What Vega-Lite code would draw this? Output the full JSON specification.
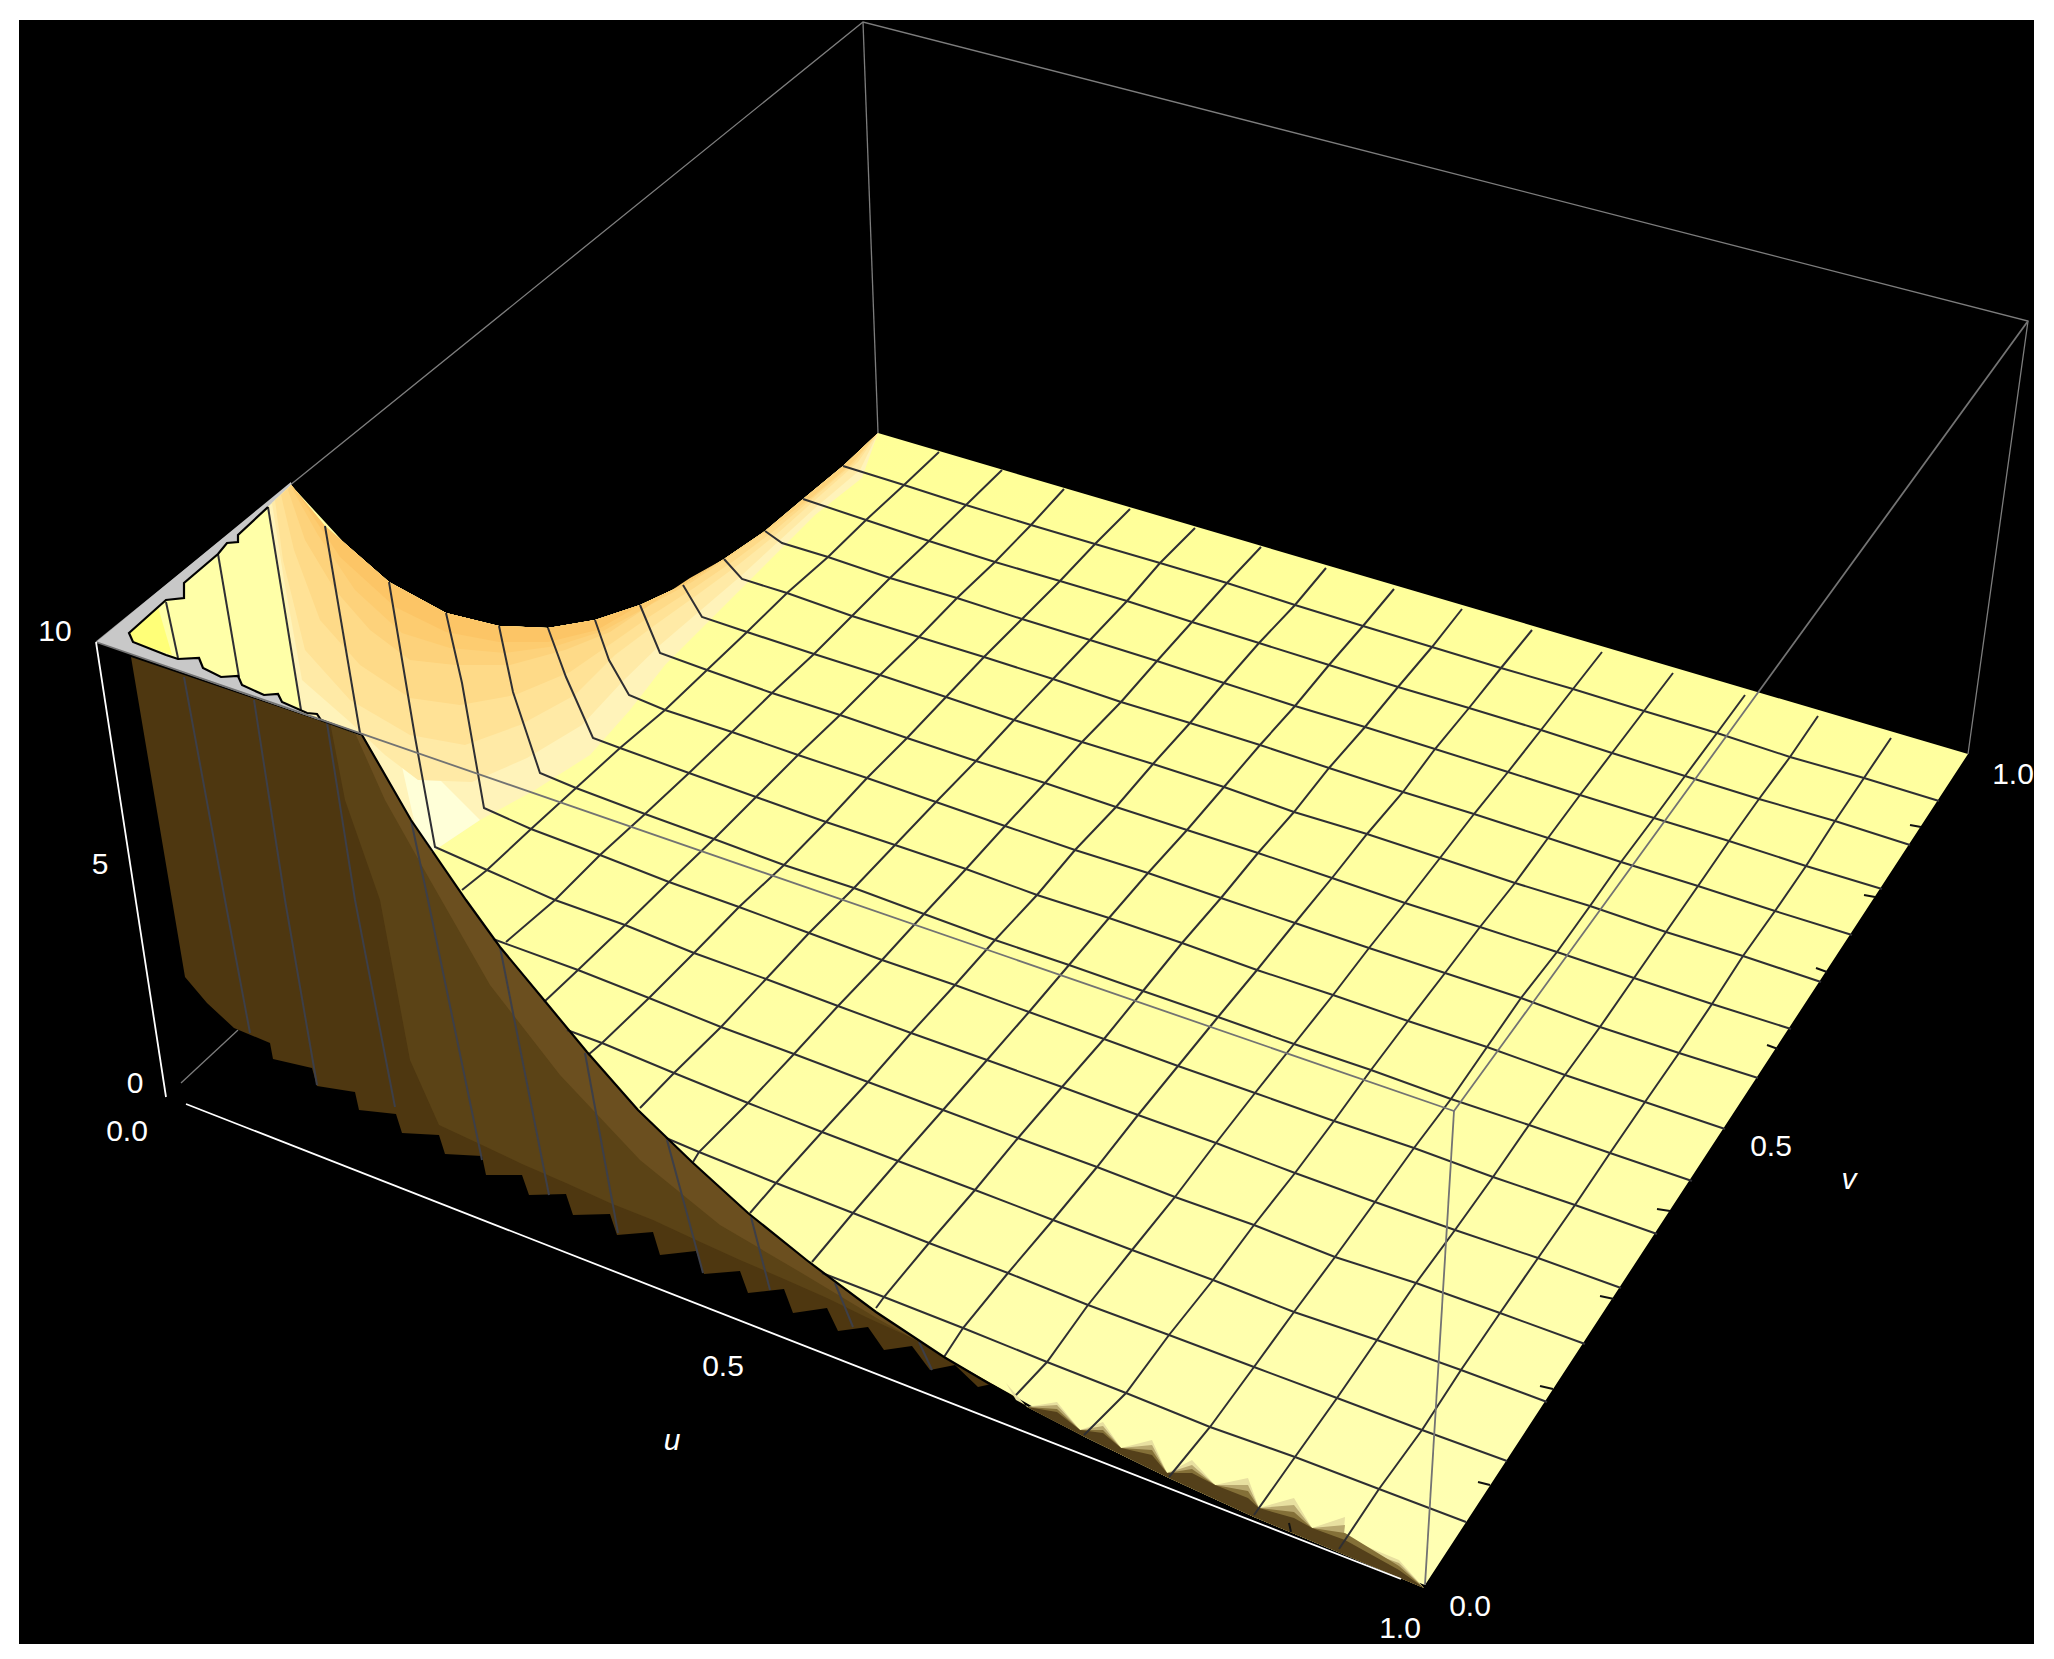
{"$schema":"https://vega.github.io/schema/vega-lite/v6.json","width":2054,"height":1659,"padding":0,"autosize":{"type":"fit","contains":"padding"},"background":"#ffffff","config":{"view":{"stroke":null}},
"datasets":{
"polys":[
{"part":"frame","i":0,"x":19,"y":20},{"part":"frame","i":1,"x":2034,"y":20},{"part":"frame","i":2,"x":2034,"y":1644},{"part":"frame","i":3,"x":19,"y":1644},
{"part":"wall","i":0,"x":131,"y":657},{"part":"wall","i":1,"x":362,"y":735},{"part":"wall","i":2,"x":411,"y":820},{"part":"wall","i":3,"x":466,"y":900},{"part":"wall","i":4,"x":544,"y":1000},{"part":"wall","i":5,"x":638,"y":1110},{"part":"wall","i":6,"x":748,"y":1213},{"part":"wall","i":7,"x":876,"y":1312},{"part":"wall","i":8,"x":1016,"y":1397},{"part":"wall","i":9,"x":1027,"y":1407},{"part":"wall","i":10,"x":996,"y":1383},{"part":"wall","i":11,"x":978,"y":1387},{"part":"wall","i":12,"x":955,"y":1365},{"part":"wall","i":13,"x":930,"y":1370},{"part":"wall","i":14,"x":912,"y":1346},{"part":"wall","i":15,"x":884,"y":1350},{"part":"wall","i":16,"x":868,"y":1327},{"part":"wall","i":17,"x":838,"y":1331},{"part":"wall","i":18,"x":827,"y":1308},{"part":"wall","i":19,"x":793,"y":1313},{"part":"wall","i":20,"x":784,"y":1289},{"part":"wall","i":21,"x":748,"y":1293},{"part":"wall","i":22,"x":740,"y":1271},{"part":"wall","i":23,"x":704,"y":1274},{"part":"wall","i":24,"x":696,"y":1251},{"part":"wall","i":25,"x":660,"y":1255},{"part":"wall","i":26,"x":653,"y":1232},{"part":"wall","i":27,"x":617,"y":1235},{"part":"wall","i":28,"x":610,"y":1214},{"part":"wall","i":29,"x":573,"y":1215},{"part":"wall","i":30,"x":566,"y":1194},{"part":"wall","i":31,"x":529,"y":1195},{"part":"wall","i":32,"x":522,"y":1175},{"part":"wall","i":33,"x":486,"y":1175},{"part":"wall","i":34,"x":482,"y":1156},{"part":"wall","i":35,"x":445,"y":1154},{"part":"wall","i":36,"x":439,"y":1135},{"part":"wall","i":37,"x":402,"y":1133},{"part":"wall","i":38,"x":396,"y":1114},{"part":"wall","i":39,"x":359,"y":1110},{"part":"wall","i":40,"x":355,"y":1092},{"part":"wall","i":41,"x":317,"y":1086},{"part":"wall","i":42,"x":312,"y":1068},{"part":"wall","i":43,"x":273,"y":1059},{"part":"wall","i":44,"x":270,"y":1043},{"part":"wall","i":45,"x":234,"y":1028},{"part":"wall","i":46,"x":207,"y":1003},{"part":"wall","i":47,"x":185,"y":977},{"part":"wall","i":48,"x":172,"y":900},
{"part":"wall2","i":0,"x":330,"y":722},{"part":"wall2","i":1,"x":362,"y":735},{"part":"wall2","i":2,"x":411,"y":820},{"part":"wall2","i":3,"x":466,"y":900},{"part":"wall2","i":4,"x":544,"y":1000},{"part":"wall2","i":5,"x":638,"y":1110},{"part":"wall2","i":6,"x":748,"y":1213},{"part":"wall2","i":7,"x":876,"y":1312},{"part":"wall2","i":8,"x":1016,"y":1397},{"part":"wall2","i":9,"x":996,"y":1378},{"part":"wall2","i":10,"x":955,"y":1358},{"part":"wall2","i":11,"x":912,"y":1338},{"part":"wall2","i":12,"x":868,"y":1318},{"part":"wall2","i":13,"x":827,"y":1298},{"part":"wall2","i":14,"x":784,"y":1279},{"part":"wall2","i":15,"x":740,"y":1260},{"part":"wall2","i":16,"x":696,"y":1240},{"part":"wall2","i":17,"x":653,"y":1220},{"part":"wall2","i":18,"x":610,"y":1203},{"part":"wall2","i":19,"x":566,"y":1183},{"part":"wall2","i":20,"x":522,"y":1164},{"part":"wall2","i":21,"x":482,"y":1145},{"part":"wall2","i":22,"x":439,"y":1125},{"part":"wall2","i":23,"x":410,"y":1060},{"part":"wall2","i":24,"x":380,"y":900},{"part":"wall2","i":25,"x":345,"y":800},
{"part":"wall3","i":0,"x":355,"y":733},{"part":"wall3","i":1,"x":362,"y":735},{"part":"wall3","i":2,"x":411,"y":820},{"part":"wall3","i":3,"x":466,"y":900},{"part":"wall3","i":4,"x":544,"y":1000},{"part":"wall3","i":5,"x":638,"y":1110},{"part":"wall3","i":6,"x":748,"y":1213},{"part":"wall3","i":7,"x":876,"y":1312},{"part":"wall3","i":8,"x":1016,"y":1397},{"part":"wall3","i":9,"x":960,"y":1365},{"part":"wall3","i":10,"x":880,"y":1320},{"part":"wall3","i":11,"x":800,"y":1272},{"part":"wall3","i":12,"x":720,"y":1225},{"part":"wall3","i":13,"x":640,"y":1160},{"part":"wall3","i":14,"x":560,"y":1075},{"part":"wall3","i":15,"x":490,"y":985},{"part":"wall3","i":16,"x":430,"y":880},{"part":"wall3","i":17,"x":385,"y":800},
{"part":"gray","i":0,"x":96,"y":642},{"part":"gray","i":1,"x":291,"y":482},{"part":"gray","i":2,"x":300,"y":600},{"part":"gray","i":3,"x":362,"y":735},
{"part":"left","i":0,"x":291,"y":485},{"part":"left","i":1,"x":268,"y":507},{"part":"left","i":2,"x":238,"y":535},{"part":"left","i":3,"x":238,"y":542},{"part":"left","i":4,"x":227,"y":543},{"part":"left","i":5,"x":218,"y":554},{"part":"left","i":6,"x":184,"y":583},{"part":"left","i":7,"x":184,"y":598},{"part":"left","i":8,"x":166,"y":600},{"part":"left","i":9,"x":129,"y":633},{"part":"left","i":10,"x":133,"y":642},{"part":"left","i":11,"x":166,"y":655},{"part":"left","i":12,"x":178,"y":659},{"part":"left","i":13,"x":199,"y":658},{"part":"left","i":14,"x":203,"y":668},{"part":"left","i":15,"x":221,"y":677},{"part":"left","i":16,"x":238,"y":676},{"part":"left","i":17,"x":242,"y":685},{"part":"left","i":18,"x":264,"y":695},{"part":"left","i":19,"x":278,"y":694},{"part":"left","i":20,"x":282,"y":702},{"part":"left","i":21,"x":307,"y":713},{"part":"left","i":22,"x":317,"y":714},{"part":"left","i":23,"x":321,"y":720},{"part":"left","i":24,"x":362,"y":735},{"part":"left","i":25,"x":420,"y":700},{"part":"left","i":26,"x":360,"y":560},
{"part":"tip","i":0,"x":129,"y":633},{"part":"tip","i":1,"x":158,"y":607},{"part":"tip","i":2,"x":172,"y":655},{"part":"tip","i":3,"x":133,"y":642},
{"part":"band1","i":0,"x":291,"y":485},{"part":"band1","i":1,"x":325,"y":526},{"part":"band1","i":2,"x":389,"y":582},{"part":"band1","i":3,"x":446,"y":613},{"part":"band1","i":4,"x":499,"y":626},{"part":"band1","i":5,"x":548,"y":628},{"part":"band1","i":6,"x":595,"y":620},{"part":"band1","i":7,"x":640,"y":605},{"part":"band1","i":8,"x":683,"y":585},{"part":"band1","i":9,"x":724,"y":559},{"part":"band1","i":10,"x":765,"y":531},{"part":"band1","i":11,"x":803,"y":499},{"part":"band1","i":12,"x":843,"y":466},{"part":"band1","i":13,"x":878,"y":433},{"part":"band1","i":14,"x":862,"y":478},{"part":"band1","i":15,"x":815,"y":515},{"part":"band1","i":16,"x":782,"y":548},{"part":"band1","i":17,"x":745,"y":585},{"part":"band1","i":18,"x":705,"y":625},{"part":"band1","i":19,"x":665,"y":665},{"part":"band1","i":20,"x":630,"y":710},{"part":"band1","i":21,"x":590,"y":755},{"part":"band1","i":22,"x":535,"y":790},{"part":"band1","i":23,"x":480,"y":820},{"part":"band1","i":24,"x":432,"y":852},{"part":"band1","i":25,"x":411,"y":820},{"part":"band1","i":26,"x":364,"y":737},{"part":"band1","i":27,"x":301,"y":712},{"part":"band1","i":28,"x":285,"y":600},{"part":"band1","i":29,"x":268,"y":507},
{"part":"cream","i":0,"x":405,"y":690},{"part":"cream","i":1,"x":430,"y":770},{"part":"cream","i":2,"x":480,"y":820},{"part":"cream","i":3,"x":432,"y":852},{"part":"cream","i":4,"x":415,"y":825},{"part":"cream","i":5,"x":395,"y":735},
{"part":"band1b","i":0,"x":291,"y":485},{"part":"band1b","i":1,"x":325,"y":526},{"part":"band1b","i":2,"x":389,"y":582},{"part":"band1b","i":3,"x":446,"y":613},{"part":"band1b","i":4,"x":499,"y":626},{"part":"band1b","i":5,"x":548,"y":628},{"part":"band1b","i":6,"x":595,"y":620},{"part":"band1b","i":7,"x":640,"y":605},{"part":"band1b","i":8,"x":683,"y":585},{"part":"band1b","i":9,"x":724,"y":559},{"part":"band1b","i":10,"x":765,"y":531},{"part":"band1b","i":11,"x":803,"y":499},{"part":"band1b","i":12,"x":843,"y":466},{"part":"band1b","i":13,"x":878,"y":433},{"part":"band1b","i":14,"x":860,"y":470},{"part":"band1b","i":15,"x":815,"y":508},{"part":"band1b","i":16,"x":780,"y":540},{"part":"band1b","i":17,"x":742,"y":575},{"part":"band1b","i":18,"x":701,"y":610},{"part":"band1b","i":19,"x":660,"y":645},{"part":"band1b","i":20,"x":622,"y":682},{"part":"band1b","i":21,"x":582,"y":725},{"part":"band1b","i":22,"x":527,"y":758},{"part":"band1b","i":23,"x":472,"y":782},{"part":"band1b","i":24,"x":418,"y":780},{"part":"band1b","i":25,"x":385,"y":755},{"part":"band1b","i":26,"x":350,"y":722},{"part":"band1b","i":27,"x":302,"y":680},{"part":"band1b","i":28,"x":284,"y":580},{"part":"band1b","i":29,"x":272,"y":503},
{"part":"band2","i":0,"x":291,"y":485},{"part":"band2","i":1,"x":325,"y":526},{"part":"band2","i":2,"x":389,"y":582},{"part":"band2","i":3,"x":446,"y":613},{"part":"band2","i":4,"x":499,"y":626},{"part":"band2","i":5,"x":548,"y":628},{"part":"band2","i":6,"x":595,"y":620},{"part":"band2","i":7,"x":640,"y":605},{"part":"band2","i":8,"x":683,"y":585},{"part":"band2","i":9,"x":724,"y":559},{"part":"band2","i":10,"x":765,"y":531},{"part":"band2","i":11,"x":803,"y":499},{"part":"band2","i":12,"x":843,"y":466},{"part":"band2","i":13,"x":878,"y":433},{"part":"band2","i":14,"x":858,"y":462},{"part":"band2","i":15,"x":815,"y":500},{"part":"band2","i":16,"x":778,"y":533},{"part":"band2","i":17,"x":738,"y":565},{"part":"band2","i":18,"x":697,"y":595},{"part":"band2","i":19,"x":655,"y":625},{"part":"band2","i":20,"x":615,"y":655},{"part":"band2","i":21,"x":575,"y":695},{"part":"band2","i":22,"x":520,"y":725},{"part":"band2","i":23,"x":465,"y":745},{"part":"band2","i":24,"x":410,"y":735},{"part":"band2","i":25,"x":350,"y":700},{"part":"band2","i":26,"x":305,"y":650},{"part":"band2","i":27,"x":283,"y":560},{"part":"band2","i":28,"x":275,"y":500},
{"part":"band2b","i":0,"x":291,"y":485},{"part":"band2b","i":1,"x":325,"y":526},{"part":"band2b","i":2,"x":389,"y":582},{"part":"band2b","i":3,"x":446,"y":613},{"part":"band2b","i":4,"x":499,"y":626},{"part":"band2b","i":5,"x":548,"y":628},{"part":"band2b","i":6,"x":595,"y":620},{"part":"band2b","i":7,"x":640,"y":605},{"part":"band2b","i":8,"x":683,"y":585},{"part":"band2b","i":9,"x":724,"y":559},{"part":"band2b","i":10,"x":765,"y":531},{"part":"band2b","i":11,"x":803,"y":499},{"part":"band2b","i":12,"x":843,"y":466},{"part":"band2b","i":13,"x":878,"y":433},{"part":"band2b","i":14,"x":854,"y":463},{"part":"band2b","i":15,"x":813,"y":498},{"part":"band2b","i":16,"x":775,"y":530},{"part":"band2b","i":17,"x":735,"y":560},{"part":"band2b","i":18,"x":694,"y":588},{"part":"band2b","i":19,"x":652,"y":615},{"part":"band2b","i":20,"x":612,"y":643},{"part":"band2b","i":21,"x":570,"y":672},{"part":"band2b","i":22,"x":515,"y":695},{"part":"band2b","i":23,"x":460,"y":705},{"part":"band2b","i":24,"x":410,"y":698},{"part":"band2b","i":25,"x":360,"y":665},{"part":"band2b","i":26,"x":320,"y":620},{"part":"band2b","i":27,"x":294,"y":550},{"part":"band2b","i":28,"x":281,"y":495},
{"part":"band3","i":0,"x":291,"y":485},{"part":"band3","i":1,"x":325,"y":526},{"part":"band3","i":2,"x":389,"y":582},{"part":"band3","i":3,"x":446,"y":613},{"part":"band3","i":4,"x":499,"y":626},{"part":"band3","i":5,"x":548,"y":628},{"part":"band3","i":6,"x":595,"y":620},{"part":"band3","i":7,"x":640,"y":605},{"part":"band3","i":8,"x":683,"y":585},{"part":"band3","i":9,"x":724,"y":559},{"part":"band3","i":10,"x":765,"y":531},{"part":"band3","i":11,"x":803,"y":499},{"part":"band3","i":12,"x":843,"y":466},{"part":"band3","i":13,"x":878,"y":433},{"part":"band3","i":14,"x":850,"y":465},{"part":"band3","i":15,"x":812,"y":497},{"part":"band3","i":16,"x":772,"y":527},{"part":"band3","i":17,"x":732,"y":555},{"part":"band3","i":18,"x":692,"y":582},{"part":"band3","i":19,"x":650,"y":605},{"part":"band3","i":20,"x":610,"y":632},{"part":"band3","i":21,"x":565,"y":650},{"part":"band3","i":22,"x":510,"y":665},{"part":"band3","i":23,"x":455,"y":665},{"part":"band3","i":24,"x":410,"y":660},{"part":"band3","i":25,"x":370,"y":630},{"part":"band3","i":26,"x":335,"y":590},{"part":"band3","i":27,"x":305,"y":540},{"part":"band3","i":28,"x":288,"y":490},
{"part":"band3b","i":0,"x":291,"y":485},{"part":"band3b","i":1,"x":325,"y":526},{"part":"band3b","i":2,"x":389,"y":582},{"part":"band3b","i":3,"x":446,"y":613},{"part":"band3b","i":4,"x":499,"y":626},{"part":"band3b","i":5,"x":548,"y":628},{"part":"band3b","i":6,"x":595,"y":620},{"part":"band3b","i":7,"x":640,"y":605},{"part":"band3b","i":8,"x":683,"y":585},{"part":"band3b","i":9,"x":724,"y":559},{"part":"band3b","i":10,"x":690,"y":578},{"part":"band3b","i":11,"x":645,"y":608},{"part":"band3b","i":12,"x":603,"y":631},{"part":"band3b","i":13,"x":556,"y":646},{"part":"band3b","i":14,"x":505,"y":653},{"part":"band3b","i":15,"x":450,"y":648},{"part":"band3b","i":16,"x":402,"y":633},{"part":"band3b","i":17,"x":355,"y":590},{"part":"band3b","i":18,"x":318,"y":535},{"part":"band3b","i":19,"x":294,"y":492},
{"part":"band4","i":0,"x":291,"y":485},{"part":"band4","i":1,"x":325,"y":526},{"part":"band4","i":2,"x":389,"y":582},{"part":"band4","i":3,"x":446,"y":613},{"part":"band4","i":4,"x":499,"y":626},{"part":"band4","i":5,"x":548,"y":628},{"part":"band4","i":6,"x":595,"y":620},{"part":"band4","i":7,"x":640,"y":605},{"part":"band4","i":8,"x":597,"y":630},{"part":"band4","i":9,"x":548,"y":642},{"part":"band4","i":10,"x":499,"y":642},{"part":"band4","i":11,"x":446,"y":632},{"part":"band4","i":12,"x":395,"y":607},{"part":"band4","i":13,"x":340,"y":557},{"part":"band4","i":14,"x":300,"y":497}
],
"plane":[
{"i":0,"x":878,"y":433},{"i":1,"x":1968,"y":754},{"i":2,"x":1425,"y":1585},{"i":3,"x":1338,"y":1552},{"i":4,"x":1254,"y":1517},{"i":5,"x":1169,"y":1478},{"i":6,"x":1085,"y":1437},{"i":7,"x":1016,"y":1397},{"i":8,"x":944,"y":1357},{"i":9,"x":876,"y":1312},{"i":10,"x":809,"y":1262},{"i":11,"x":748,"y":1213},{"i":12,"x":692,"y":1162},{"i":13,"x":638,"y":1110},{"i":14,"x":587,"y":1052},{"i":15,"x":544,"y":1000},{"i":16,"x":500,"y":947},{"i":17,"x":466,"y":900},{"i":18,"x":411,"y":820},{"i":19,"x":364,"y":737},{"i":20,"x":325,"y":526},{"i":21,"x":389,"y":582},{"i":22,"x":446,"y":613},{"i":23,"x":499,"y":626},{"i":24,"x":548,"y":628},{"i":25,"x":595,"y":620},{"i":26,"x":640,"y":605},{"i":27,"x":683,"y":585},{"i":28,"x":724,"y":559},{"i":29,"x":765,"y":531},{"i":30,"x":803,"y":499},{"i":31,"x":843,"y":466}
],
"teeth":[
{"part":"t1","i":0,"x":1006,"y":1383},{"part":"t1","i":1,"x":1027,"y":1407},{"part":"t1","i":2,"x":1057,"y":1402},{"part":"t1","i":3,"x":1080,"y":1430},{"part":"t1","i":4,"x":1103,"y":1422},{"part":"t1","i":5,"x":1121,"y":1448},{"part":"t1","i":6,"x":1152,"y":1440},{"part":"t1","i":7,"x":1167,"y":1473},{"part":"t1","i":8,"x":1192,"y":1460},{"part":"t1","i":9,"x":1215,"y":1485},{"part":"t1","i":10,"x":1248,"y":1478},{"part":"t1","i":11,"x":1259,"y":1508},{"part":"t1","i":12,"x":1294,"y":1498},{"part":"t1","i":13,"x":1312,"y":1528},{"part":"t1","i":14,"x":1345,"y":1517},{"part":"t1","i":15,"x":1343,"y":1543},{"part":"t1","i":16,"x":1358,"y":1543},{"part":"t1","i":17,"x":1399,"y":1560},{"part":"t1","i":18,"x":1424,"y":1588},{"part":"t1","i":19,"x":1338,"y":1552},{"part":"t1","i":20,"x":1254,"y":1517},{"part":"t1","i":21,"x":1169,"y":1478},{"part":"t1","i":22,"x":1085,"y":1437},{"part":"t1","i":23,"x":1016,"y":1400},
{"part":"t2","i":0,"x":1027,"y":1407},{"part":"t2","i":1,"x":1057,"y":1405},{"part":"t2","i":2,"x":1080,"y":1430},{"part":"t2","i":3,"x":1103,"y":1426},{"part":"t2","i":4,"x":1121,"y":1448},{"part":"t2","i":5,"x":1152,"y":1445},{"part":"t2","i":6,"x":1167,"y":1473},{"part":"t2","i":7,"x":1192,"y":1465},{"part":"t2","i":8,"x":1215,"y":1485},{"part":"t2","i":9,"x":1248,"y":1485},{"part":"t2","i":10,"x":1259,"y":1508},{"part":"t2","i":11,"x":1294,"y":1505},{"part":"t2","i":12,"x":1312,"y":1528},{"part":"t2","i":13,"x":1345,"y":1525},{"part":"t2","i":14,"x":1343,"y":1543},{"part":"t2","i":15,"x":1399,"y":1563},{"part":"t2","i":16,"x":1424,"y":1588},{"part":"t2","i":17,"x":1338,"y":1552},{"part":"t2","i":18,"x":1254,"y":1517},{"part":"t2","i":19,"x":1169,"y":1478},{"part":"t2","i":20,"x":1085,"y":1437},
{"part":"t3","i":0,"x":1027,"y":1407},{"part":"t3","i":1,"x":1057,"y":1409},{"part":"t3","i":2,"x":1080,"y":1430},{"part":"t3","i":3,"x":1103,"y":1430},{"part":"t3","i":4,"x":1121,"y":1448},{"part":"t3","i":5,"x":1152,"y":1450},{"part":"t3","i":6,"x":1167,"y":1473},{"part":"t3","i":7,"x":1192,"y":1469},{"part":"t3","i":8,"x":1215,"y":1485},{"part":"t3","i":9,"x":1248,"y":1491},{"part":"t3","i":10,"x":1259,"y":1508},{"part":"t3","i":11,"x":1294,"y":1512},{"part":"t3","i":12,"x":1312,"y":1528},{"part":"t3","i":13,"x":1345,"y":1533},{"part":"t3","i":14,"x":1399,"y":1566},{"part":"t3","i":15,"x":1424,"y":1588},{"part":"t3","i":16,"x":1338,"y":1552},{"part":"t3","i":17,"x":1254,"y":1517},{"part":"t3","i":18,"x":1169,"y":1478},{"part":"t3","i":19,"x":1085,"y":1437},
{"part":"t4","i":0,"x":1027,"y":1407},{"part":"t4","i":1,"x":1057,"y":1412},{"part":"t4","i":2,"x":1080,"y":1430},{"part":"t4","i":3,"x":1103,"y":1433},{"part":"t4","i":4,"x":1121,"y":1448},{"part":"t4","i":5,"x":1152,"y":1455},{"part":"t4","i":6,"x":1167,"y":1473},{"part":"t4","i":7,"x":1192,"y":1473},{"part":"t4","i":8,"x":1215,"y":1485},{"part":"t4","i":9,"x":1248,"y":1498},{"part":"t4","i":10,"x":1259,"y":1508},{"part":"t4","i":11,"x":1294,"y":1518},{"part":"t4","i":12,"x":1312,"y":1528},{"part":"t4","i":13,"x":1345,"y":1540},{"part":"t4","i":14,"x":1399,"y":1570},{"part":"t4","i":15,"x":1424,"y":1588},{"part":"t4","i":16,"x":1338,"y":1552},{"part":"t4","i":17,"x":1254,"y":1517},{"part":"t4","i":18,"x":1169,"y":1478},{"part":"t4","i":19,"x":1085,"y":1437}
],
"lines":[
{"part":"back","n":"b1","i":0,"x":96,"y":642},{"part":"back","n":"b1","i":1,"x":863,"y":22},{"part":"back","n":"b1","i":2,"x":2028,"y":321},{"part":"back","n":"b1","i":3,"x":1968,"y":754},
{"part":"back","n":"b2","i":0,"x":863,"y":22},{"part":"back","n":"b2","i":1,"x":878,"y":433},
{"part":"back","n":"b3","i":0,"x":181,"y":1083},{"part":"back","n":"b3","i":1,"x":238,"y":1030},
{"part":"wall","n":"w1","i":0,"x":184,"y":677},{"part":"wall","n":"w1","i":1,"x":225,"y":900},{"part":"wall","n":"w1","i":2,"x":250,"y":1033},
{"part":"wall","n":"w2","i":0,"x":254,"y":700},{"part":"wall","n":"w2","i":1,"x":285,"y":900},{"part":"wall","n":"w2","i":2,"x":317,"y":1085},
{"part":"wall","n":"w3","i":0,"x":327,"y":723},{"part":"wall","n":"w3","i":1,"x":355,"y":900},{"part":"wall","n":"w3","i":2,"x":395,"y":1107},
{"part":"wall","n":"w4","i":0,"x":411,"y":820},{"part":"wall","n":"w4","i":1,"x":428,"y":900},{"part":"wall","n":"w4","i":2,"x":482,"y":1160},
{"part":"wall","n":"w5","i":0,"x":500,"y":947},{"part":"wall","n":"w5","i":1,"x":549,"y":1195},
{"part":"wall","n":"w6","i":0,"x":585,"y":1053},{"part":"wall","n":"w6","i":1,"x":618,"y":1233},
{"part":"wall","n":"w7","i":0,"x":667,"y":1140},{"part":"wall","n":"w7","i":1,"x":703,"y":1273},
{"part":"wall","n":"w8","i":0,"x":751,"y":1217},{"part":"wall","n":"w8","i":1,"x":770,"y":1290},
{"part":"wall","n":"w9","i":0,"x":835,"y":1283},{"part":"wall","n":"w9","i":1,"x":853,"y":1327},
{"part":"wall","n":"w10","i":0,"x":919,"y":1342},{"part":"wall","n":"w10","i":1,"x":932,"y":1370},
{"part":"edge","n":"front","i":0,"x":362,"y":735},{"part":"edge","n":"front","i":1,"x":411,"y":820},{"part":"edge","n":"front","i":2,"x":466,"y":900},{"part":"edge","n":"front","i":3,"x":500,"y":947},{"part":"edge","n":"front","i":4,"x":544,"y":1000},{"part":"edge","n":"front","i":5,"x":587,"y":1052},{"part":"edge","n":"front","i":6,"x":638,"y":1110},{"part":"edge","n":"front","i":7,"x":692,"y":1162},{"part":"edge","n":"front","i":8,"x":748,"y":1213},{"part":"edge","n":"front","i":9,"x":809,"y":1262},{"part":"edge","n":"front","i":10,"x":876,"y":1312},{"part":"edge","n":"front","i":11,"x":944,"y":1357},{"part":"edge","n":"front","i":12,"x":1000,"y":1390},
{"part":"edge","n":"jag","i":0,"x":268,"y":507},{"part":"edge","n":"jag","i":1,"x":238,"y":535},{"part":"edge","n":"jag","i":2,"x":238,"y":542},{"part":"edge","n":"jag","i":3,"x":227,"y":543},{"part":"edge","n":"jag","i":4,"x":218,"y":554},{"part":"edge","n":"jag","i":5,"x":184,"y":583},{"part":"edge","n":"jag","i":6,"x":184,"y":598},{"part":"edge","n":"jag","i":7,"x":166,"y":600},{"part":"edge","n":"jag","i":8,"x":129,"y":633},{"part":"edge","n":"jag","i":9,"x":133,"y":642},{"part":"edge","n":"jag","i":10,"x":166,"y":655},{"part":"edge","n":"jag","i":11,"x":178,"y":659},{"part":"edge","n":"jag","i":12,"x":199,"y":658},{"part":"edge","n":"jag","i":13,"x":203,"y":668},{"part":"edge","n":"jag","i":14,"x":221,"y":677},{"part":"edge","n":"jag","i":15,"x":238,"y":676},{"part":"edge","n":"jag","i":16,"x":242,"y":685},{"part":"edge","n":"jag","i":17,"x":264,"y":695},{"part":"edge","n":"jag","i":18,"x":278,"y":694},{"part":"edge","n":"jag","i":19,"x":282,"y":702},{"part":"edge","n":"jag","i":20,"x":307,"y":713},{"part":"edge","n":"jag","i":21,"x":317,"y":714},{"part":"edge","n":"jag","i":22,"x":321,"y":720},{"part":"edge","n":"jag","i":23,"x":362,"y":735},
{"part":"mesh","n":"c12","i":0,"x":325,"y":526},{"part":"mesh","n":"c12","i":1,"x":360,"y":733},
{"part":"mesh","n":"c13","i":0,"x":268,"y":507},{"part":"mesh","n":"c13","i":1,"x":301,"y":710},
{"part":"mesh","n":"c14","i":0,"x":218,"y":554},{"part":"mesh","n":"c14","i":1,"x":239,"y":677},
{"part":"mesh","n":"c15","i":0,"x":166,"y":602},{"part":"mesh","n":"c15","i":1,"x":178,"y":658},
{"part":"front","n":"f1","i":0,"x":96,"y":642},{"part":"front","n":"f1","i":1,"x":1454,"y":1111},{"part":"front","n":"f1","i":2,"x":2028,"y":321},
{"part":"front","n":"f2","i":0,"x":1454,"y":1111},{"part":"front","n":"f2","i":1,"x":1425,"y":1585},
{"part":"axis","n":"z","i":0,"x":96,"y":642},{"part":"axis","n":"z","i":1,"x":166,"y":1097},
{"part":"axis","n":"u","i":0,"x":186,"y":1104},{"part":"axis","n":"u","i":1,"x":1401,"y":1579},
{"part":"tick","n":"t1","i":0,"x":1910,"y":825},{"part":"tick","n":"t1","i":1,"x":1921,"y":827},
{"part":"tick","n":"t2","i":0,"x":1864,"y":895},{"part":"tick","n":"t2","i":1,"x":1875,"y":897},
{"part":"tick","n":"t3","i":0,"x":1816,"y":968},{"part":"tick","n":"t3","i":1,"x":1827,"y":972},
{"part":"tick","n":"t4","i":0,"x":1767,"y":1045},{"part":"tick","n":"t4","i":1,"x":1778,"y":1049},
{"part":"tick","n":"t5","i":0,"x":1657,"y":1209},{"part":"tick","n":"t5","i":1,"x":1670,"y":1211},
{"part":"tick","n":"t6","i":0,"x":1600,"y":1296},{"part":"tick","n":"t6","i":1,"x":1614,"y":1299},
{"part":"tick","n":"t7","i":0,"x":1540,"y":1386},{"part":"tick","n":"t7","i":1,"x":1553,"y":1389},
{"part":"tick","n":"t8","i":0,"x":1478,"y":1482},{"part":"tick","n":"t8","i":1,"x":1490,"y":1485},
{"part":"tick","n":"t9","i":0,"x":1289,"y":1523},{"part":"tick","n":"t9","i":1,"x":1291,"y":1532}
],
"grid":[
{"a":1,"b":0,"x":843,"y":466},{"a":2,"b":0,"x":803,"y":499},{"a":3,"b":-1,"x":765,"y":531},{"a":3,"b":0,"x":782,"y":543},{"a":4,"b":-1,"x":724,"y":559},{"a":4,"b":0,"x":742,"y":579},{"a":5,"b":-1,"x":683,"y":585},{"a":5,"b":0,"x":702,"y":617},{"a":6,"b":-1,"x":640,"y":605},{"a":6,"b":0,"x":660,"y":653},{"a":7,"b":-2,"x":595,"y":620},{"a":7,"b":-1,"x":609,"y":660},{"a":7,"b":0,"x":629,"y":695},{"a":8,"b":-2,"x":548,"y":628},{"a":8,"b":-1,"x":566,"y":677},{"a":8,"b":0,"x":593,"y":738},{"a":9,"b":-2,"x":499,"y":626},{"a":9,"b":-1,"x":513,"y":692},{"a":9,"b":0,"x":540,"y":773},{"a":10,"b":-2,"x":446,"y":613},{"a":10,"b":-1,"x":462,"y":683},{"a":10,"b":0,"x":484,"y":808},{"a":11,"b":-2,"x":389,"y":582},{"a":11,"b":-1,"x":415,"y":737},{"a":11,"b":0,"x":435,"y":847},{"a":12,"b":0,"x":493,"y":939},{"a":13,"b":0,"x":567,"y":1030},{"a":14,"b":0,"x":666,"y":1138},{"a":15,"b":0,"x":822,"y":1273},
{"a":0,"b":1,"x":939,"y":452},{"a":1,"b":1,"x":904,"y":485},{"a":2,"b":1,"x":866,"y":520},{"a":3,"b":1,"x":828,"y":557},{"a":4,"b":1,"x":787,"y":593},{"a":5,"b":1,"x":747,"y":632},{"a":6,"b":1,"x":707,"y":670},{"a":7,"b":1,"x":665,"y":710},{"a":8,"b":1,"x":620,"y":748},{"a":9,"b":1,"x":576,"y":788},{"a":10,"b":1,"x":531,"y":829},{"a":11,"b":1,"x":487,"y":870},{"a":16,"b":1,"x":462,"y":890},
{"a":0,"b":2,"x":1002,"y":470},{"a":1,"b":2,"x":966,"y":505},{"a":2,"b":2,"x":929,"y":541},{"a":3,"b":2,"x":890,"y":578},{"a":4,"b":2,"x":852,"y":616},{"a":5,"b":2,"x":814,"y":654},{"a":6,"b":2,"x":772,"y":693},{"a":7,"b":2,"x":732,"y":732},{"a":8,"b":2,"x":689,"y":773},{"a":9,"b":2,"x":645,"y":814},{"a":10,"b":2,"x":600,"y":855},{"a":11,"b":2,"x":555,"y":900},{"a":16,"b":2,"x":506,"y":942},
{"a":0,"b":3,"x":1064,"y":489},{"a":1,"b":3,"x":1031,"y":525},{"a":2,"b":3,"x":995,"y":562},{"a":3,"b":3,"x":957,"y":598},{"a":4,"b":3,"x":919,"y":637},{"a":5,"b":3,"x":880,"y":675},{"a":6,"b":3,"x":840,"y":715},{"a":7,"b":3,"x":798,"y":755},{"a":8,"b":3,"x":756,"y":797},{"a":9,"b":3,"x":714,"y":839},{"a":10,"b":3,"x":669,"y":882},{"a":11,"b":3,"x":625,"y":925},{"a":12,"b":3,"x":578,"y":970},{"a":16,"b":3,"x":544,"y":1002},
{"a":0,"b":4,"x":1130,"y":509},{"a":1,"b":4,"x":1095,"y":544},{"a":2,"b":4,"x":1060,"y":581},{"a":3,"b":4,"x":1022,"y":619},{"a":4,"b":4,"x":984,"y":657},{"a":5,"b":4,"x":946,"y":697},{"a":6,"b":4,"x":907,"y":738},{"a":7,"b":4,"x":867,"y":778},{"a":8,"b":4,"x":826,"y":822},{"a":9,"b":4,"x":784,"y":865},{"a":10,"b":4,"x":739,"y":907},{"a":11,"b":4,"x":694,"y":953},{"a":12,"b":4,"x":649,"y":998},{"a":13,"b":4,"x":602,"y":1043},{"a":16,"b":4,"x":588,"y":1055},
{"a":0,"b":5,"x":1195,"y":528},{"a":1,"b":5,"x":1160,"y":563},{"a":2,"b":5,"x":1127,"y":601},{"a":3,"b":5,"x":1090,"y":640},{"a":4,"b":5,"x":1053,"y":679},{"a":5,"b":5,"x":1014,"y":720},{"a":6,"b":5,"x":976,"y":761},{"a":7,"b":5,"x":936,"y":802},{"a":8,"b":5,"x":895,"y":845},{"a":9,"b":5,"x":854,"y":888},{"a":10,"b":5,"x":809,"y":933},{"a":11,"b":5,"x":766,"y":979},{"a":12,"b":5,"x":721,"y":1027},{"a":13,"b":5,"x":674,"y":1073},{"a":16,"b":5,"x":640,"y":1108},
{"a":0,"b":6,"x":1261,"y":547},{"a":1,"b":6,"x":1227,"y":583},{"a":2,"b":6,"x":1192,"y":622},{"a":3,"b":6,"x":1157,"y":661},{"a":4,"b":6,"x":1121,"y":702},{"a":5,"b":6,"x":1082,"y":742},{"a":6,"b":6,"x":1045,"y":783},{"a":7,"b":6,"x":1005,"y":826},{"a":8,"b":6,"x":966,"y":869},{"a":9,"b":6,"x":924,"y":914},{"a":10,"b":6,"x":882,"y":960},{"a":11,"b":6,"x":838,"y":1006},{"a":12,"b":6,"x":794,"y":1054},{"a":13,"b":6,"x":748,"y":1103},{"a":14,"b":6,"x":699,"y":1152},{"a":16,"b":6,"x":693,"y":1162},
{"a":0,"b":7,"x":1326,"y":568},{"a":1,"b":7,"x":1295,"y":605},{"a":2,"b":7,"x":1259,"y":643},{"a":3,"b":7,"x":1224,"y":683},{"a":4,"b":7,"x":1190,"y":723},{"a":5,"b":7,"x":1153,"y":764},{"a":6,"b":7,"x":1116,"y":807},{"a":7,"b":7,"x":1075,"y":850},{"a":8,"b":7,"x":1037,"y":895},{"a":9,"b":7,"x":995,"y":940},{"a":10,"b":7,"x":955,"y":985},{"a":11,"b":7,"x":911,"y":1033},{"a":12,"b":7,"x":868,"y":1082},{"a":13,"b":7,"x":822,"y":1132},{"a":14,"b":7,"x":776,"y":1183},{"a":16,"b":7,"x":750,"y":1213},
{"a":0,"b":8,"x":1394,"y":589},{"a":1,"b":8,"x":1363,"y":626},{"a":2,"b":8,"x":1329,"y":665},{"a":3,"b":8,"x":1295,"y":706},{"a":4,"b":8,"x":1260,"y":745},{"a":5,"b":8,"x":1224,"y":787},{"a":6,"b":8,"x":1187,"y":830},{"a":7,"b":8,"x":1148,"y":873},{"a":8,"b":8,"x":1109,"y":918},{"a":9,"b":8,"x":1069,"y":965},{"a":10,"b":8,"x":1029,"y":1012},{"a":11,"b":8,"x":987,"y":1060},{"a":12,"b":8,"x":943,"y":1110},{"a":13,"b":8,"x":898,"y":1161},{"a":14,"b":8,"x":853,"y":1213},{"a":16,"b":8,"x":812,"y":1262},
{"a":0,"b":9,"x":1462,"y":609},{"a":1,"b":9,"x":1432,"y":647},{"a":2,"b":9,"x":1398,"y":687},{"a":3,"b":9,"x":1365,"y":727},{"a":4,"b":9,"x":1329,"y":768},{"a":5,"b":9,"x":1294,"y":812},{"a":6,"b":9,"x":1258,"y":853},{"a":7,"b":9,"x":1221,"y":898},{"a":8,"b":9,"x":1182,"y":943},{"a":9,"b":9,"x":1143,"y":991},{"a":10,"b":9,"x":1104,"y":1039},{"a":11,"b":9,"x":1062,"y":1087},{"a":12,"b":9,"x":1018,"y":1138},{"a":13,"b":9,"x":975,"y":1190},{"a":14,"b":9,"x":929,"y":1243},{"a":15,"b":9,"x":884,"y":1297},{"a":16,"b":9,"x":876,"y":1308},
{"a":0,"b":10,"x":1532,"y":630},{"a":1,"b":10,"x":1501,"y":668},{"a":2,"b":10,"x":1469,"y":708},{"a":3,"b":10,"x":1435,"y":749},{"a":4,"b":10,"x":1403,"y":792},{"a":5,"b":10,"x":1367,"y":834},{"a":6,"b":10,"x":1332,"y":878},{"a":7,"b":10,"x":1295,"y":923},{"a":8,"b":10,"x":1257,"y":970},{"a":9,"b":10,"x":1218,"y":1017},{"a":10,"b":10,"x":1178,"y":1066},{"a":11,"b":10,"x":1138,"y":1115},{"a":12,"b":10,"x":1097,"y":1167},{"a":13,"b":10,"x":1053,"y":1220},{"a":14,"b":10,"x":1008,"y":1273},{"a":15,"b":10,"x":963,"y":1328},{"a":16,"b":10,"x":944,"y":1357},
{"a":0,"b":11,"x":1602,"y":652},{"a":1,"b":11,"x":1573,"y":689},{"a":2,"b":11,"x":1541,"y":730},{"a":3,"b":11,"x":1508,"y":772},{"a":4,"b":11,"x":1474,"y":814},{"a":5,"b":11,"x":1440,"y":858},{"a":6,"b":11,"x":1405,"y":903},{"a":7,"b":11,"x":1369,"y":948},{"a":8,"b":11,"x":1333,"y":995},{"a":9,"b":11,"x":1294,"y":1044},{"a":10,"b":11,"x":1255,"y":1093},{"a":11,"b":11,"x":1216,"y":1143},{"a":12,"b":11,"x":1175,"y":1197},{"a":13,"b":11,"x":1132,"y":1250},{"a":14,"b":11,"x":1088,"y":1305},{"a":15,"b":11,"x":1047,"y":1362},{"a":16,"b":11,"x":1016,"y":1395},
{"a":0,"b":12,"x":1673,"y":673},{"a":1,"b":12,"x":1644,"y":711},{"a":2,"b":12,"x":1612,"y":753},{"a":3,"b":12,"x":1580,"y":795},{"a":4,"b":12,"x":1548,"y":838},{"a":5,"b":12,"x":1515,"y":883},{"a":6,"b":12,"x":1480,"y":927},{"a":7,"b":12,"x":1445,"y":973},{"a":8,"b":12,"x":1408,"y":1021},{"a":9,"b":12,"x":1371,"y":1070},{"a":10,"b":12,"x":1334,"y":1121},{"a":11,"b":12,"x":1295,"y":1173},{"a":12,"b":12,"x":1254,"y":1225},{"a":13,"b":12,"x":1213,"y":1280},{"a":14,"b":12,"x":1169,"y":1335},{"a":15,"b":12,"x":1126,"y":1393},{"a":16,"b":12,"x":1084,"y":1435},
{"a":0,"b":13,"x":1745,"y":695},{"a":1,"b":13,"x":1717,"y":733},{"a":2,"b":13,"x":1685,"y":776},{"a":3,"b":13,"x":1654,"y":818},{"a":4,"b":13,"x":1621,"y":862},{"a":5,"b":13,"x":1590,"y":906},{"a":6,"b":13,"x":1557,"y":952},{"a":7,"b":13,"x":1521,"y":998},{"a":8,"b":13,"x":1487,"y":1047},{"a":9,"b":13,"x":1451,"y":1099},{"a":10,"b":13,"x":1414,"y":1148},{"a":11,"b":13,"x":1375,"y":1202},{"a":12,"b":13,"x":1335,"y":1257},{"a":13,"b":13,"x":1294,"y":1312},{"a":14,"b":13,"x":1254,"y":1367},{"a":15,"b":13,"x":1210,"y":1427},{"a":16,"b":13,"x":1169,"y":1477},
{"a":0,"b":14,"x":1818,"y":716},{"a":1,"b":14,"x":1790,"y":757},{"a":2,"b":14,"x":1759,"y":799},{"a":3,"b":14,"x":1729,"y":841},{"a":4,"b":14,"x":1698,"y":886},{"a":5,"b":14,"x":1666,"y":932},{"a":6,"b":14,"x":1634,"y":978},{"a":7,"b":14,"x":1600,"y":1027},{"a":8,"b":14,"x":1565,"y":1075},{"a":9,"b":14,"x":1529,"y":1125},{"a":10,"b":14,"x":1493,"y":1177},{"a":11,"b":14,"x":1455,"y":1230},{"a":12,"b":14,"x":1416,"y":1283},{"a":13,"b":14,"x":1377,"y":1340},{"a":14,"b":14,"x":1337,"y":1398},{"a":15,"b":14,"x":1295,"y":1457},{"a":16,"b":14,"x":1254,"y":1515},
{"a":0,"b":15,"x":1891,"y":738},{"a":1,"b":15,"x":1864,"y":778},{"a":2,"b":15,"x":1835,"y":821},{"a":3,"b":15,"x":1806,"y":866},{"a":4,"b":15,"x":1775,"y":911},{"a":5,"b":15,"x":1743,"y":956},{"a":6,"b":15,"x":1712,"y":1004},{"a":7,"b":15,"x":1679,"y":1053},{"a":8,"b":15,"x":1645,"y":1102},{"a":9,"b":15,"x":1610,"y":1153},{"a":10,"b":15,"x":1575,"y":1205},{"a":11,"b":15,"x":1538,"y":1258},{"a":12,"b":15,"x":1500,"y":1313},{"a":13,"b":15,"x":1461,"y":1370},{"a":14,"b":15,"x":1422,"y":1430},{"a":15,"b":15,"x":1379,"y":1489},{"a":16,"b":15,"x":1339,"y":1549},
{"a":1,"b":16,"x":1939,"y":801},{"a":2,"b":16,"x":1910,"y":845},{"a":3,"b":16,"x":1882,"y":889},{"a":4,"b":16,"x":1852,"y":935},{"a":5,"b":16,"x":1821,"y":982},{"a":6,"b":16,"x":1791,"y":1029},{"a":7,"b":16,"x":1758,"y":1078},{"a":8,"b":16,"x":1725,"y":1129},{"a":9,"b":16,"x":1692,"y":1181},{"a":10,"b":16,"x":1657,"y":1234},{"a":11,"b":16,"x":1621,"y":1288},{"a":12,"b":16,"x":1585,"y":1344},{"a":13,"b":16,"x":1547,"y":1402},{"a":14,"b":16,"x":1507,"y":1461},{"a":15,"b":16,"x":1466,"y":1522}
],
"labels":[
{"t":"10","x":55,"y":629},{"t":"5","x":100,"y":862},{"t":"0","x":135,"y":1081},{"t":"0.0","x":127,"y":1129},{"t":"0.5","x":723,"y":1364},{"t":"1.0","x":1400,"y":1626},{"t":"0.0","x":1470,"y":1604},{"t":"0.5","x":1771,"y":1144},{"t":"1.0","x":2013,"y":772}
],
"titles":[{"t":"u","x":672,"y":1438},{"t":"v","x":1849,"y":1177}]
},
"encoding":{
"x":{"field":"x","type":"quantitative","axis":null,"scale":{"domain":[0,2054],"nice":false,"zero":false}},
"y":{"field":"y","type":"quantitative","axis":null,"scale":{"domain":[1659,0],"nice":false,"zero":false}}
},
"layer":[
{"data":{"name":"polys"},"transform":[{"filter":"datum.part==='frame'"}],"mark":{"type":"line","fill":"#000000","strokeWidth":0},"encoding":{"order":{"field":"i"}}},
{"data":{"name":"lines"},"transform":[{"filter":"datum.part==='back'"}],"mark":{"type":"line","stroke":"#7d7d7d","strokeWidth":1.3},"encoding":{"detail":{"field":"n"},"order":{"field":"i"}}},
{"data":{"name":"polys"},"transform":[{"filter":"datum.part==='wall'"}],"mark":{"type":"line","fill":"#4e3710","strokeWidth":0},"encoding":{"order":{"field":"i"}}},
{"data":{"name":"polys"},"transform":[{"filter":"datum.part==='wall2'"}],"mark":{"type":"line","fill":"#5b4316","strokeWidth":0},"encoding":{"order":{"field":"i"}}},
{"data":{"name":"polys"},"transform":[{"filter":"datum.part==='wall3'"}],"mark":{"type":"line","fill":"#6b4f1f","strokeWidth":0},"encoding":{"order":{"field":"i"}}},
{"data":{"name":"lines"},"transform":[{"filter":"datum.part==='wall'"}],"mark":{"type":"line","stroke":"#3d3f48","strokeWidth":2},"encoding":{"detail":{"field":"n"},"order":{"field":"i"}}},
{"data":{"name":"polys"},"transform":[{"filter":"datum.part==='gray'"}],"mark":{"type":"line","fill":"#c8c8c8","strokeWidth":0},"encoding":{"order":{"field":"i"}}},
{"data":{"name":"plane"},"mark":{"type":"line","strokeWidth":0,"fill":{"gradient":"linear","x1":0,"y1":0,"x2":0,"y2":1,"stops":[{"offset":0,"color":"#ffff98"},{"offset":0.5,"color":"#ffffa4"},{"offset":1,"color":"#ffffb4"}]}},"encoding":{"order":{"field":"i"}}},
{"data":{"name":"polys"},"transform":[{"filter":"datum.part==='left'"}],"mark":{"type":"line","fill":"#ffffa8","strokeWidth":0},"encoding":{"order":{"field":"i"}}},
{"data":{"name":"polys"},"transform":[{"filter":"datum.part==='tip'"}],"mark":{"type":"line","fill":"#ffff78","strokeWidth":0},"encoding":{"order":{"field":"i"}}},
{"data":{"name":"polys"},"transform":[{"filter":"datum.part==='band1'"}],"mark":{"type":"line","fill":"#fff3ba","strokeWidth":0},"encoding":{"order":{"field":"i"}}},
{"data":{"name":"polys"},"transform":[{"filter":"datum.part==='cream'"}],"mark":{"type":"line","fill":"#ffffd8","strokeWidth":0},"encoding":{"order":{"field":"i"}}},
{"data":{"name":"polys"},"transform":[{"filter":"datum.part==='band1b'"}],"mark":{"type":"line","fill":"#ffeaa6","strokeWidth":0},"encoding":{"order":{"field":"i"}}},
{"data":{"name":"polys"},"transform":[{"filter":"datum.part==='band2'"}],"mark":{"type":"line","fill":"#ffe296","strokeWidth":0},"encoding":{"order":{"field":"i"}}},
{"data":{"name":"polys"},"transform":[{"filter":"datum.part==='band2b'"}],"mark":{"type":"line","fill":"#feda88","strokeWidth":0},"encoding":{"order":{"field":"i"}}},
{"data":{"name":"polys"},"transform":[{"filter":"datum.part==='band3'"}],"mark":{"type":"line","fill":"#fdd27b","strokeWidth":0},"encoding":{"order":{"field":"i"}}},
{"data":{"name":"polys"},"transform":[{"filter":"datum.part==='band3b'"}],"mark":{"type":"line","fill":"#fdcc70","strokeWidth":0},"encoding":{"order":{"field":"i"}}},
{"data":{"name":"polys"},"transform":[{"filter":"datum.part==='band4'"}],"mark":{"type":"line","fill":"#fcc566","strokeWidth":0},"encoding":{"order":{"field":"i"}}},
{"data":{"name":"teeth"},"transform":[{"filter":"datum.part==='t1'"}],"mark":{"type":"line","fill":"#e8e0a0","strokeWidth":0},"encoding":{"order":{"field":"i"}}},
{"data":{"name":"teeth"},"transform":[{"filter":"datum.part==='t2'"}],"mark":{"type":"line","fill":"#b8a86e","strokeWidth":0},"encoding":{"order":{"field":"i"}}},
{"data":{"name":"teeth"},"transform":[{"filter":"datum.part==='t3'"}],"mark":{"type":"line","fill":"#847038","strokeWidth":0},"encoding":{"order":{"field":"i"}}},
{"data":{"name":"teeth"},"transform":[{"filter":"datum.part==='t4'"}],"mark":{"type":"line","fill":"#54401a","strokeWidth":0},"encoding":{"order":{"field":"i"}}},
{"data":{"name":"grid"},"transform":[{"filter":"datum.a>=1&&datum.a<=15"}],"mark":{"type":"line","stroke":"#2f2f33","strokeWidth":2},"encoding":{"detail":{"field":"a"},"order":{"field":"b"}}},
{"data":{"name":"grid"},"transform":[{"filter":"datum.b>=1&&datum.b<=15"}],"mark":{"type":"line","stroke":"#2f2f33","strokeWidth":2},"encoding":{"detail":{"field":"b"},"order":{"field":"a"}}},
{"data":{"name":"lines"},"transform":[{"filter":"datum.part==='mesh'"}],"mark":{"type":"line","stroke":"#2f2f33","strokeWidth":2},"encoding":{"detail":{"field":"n"},"order":{"field":"i"}}},
{"data":{"name":"lines"},"transform":[{"filter":"datum.part==='edge'"}],"mark":{"type":"line","stroke":"#000000","strokeWidth":2.2},"encoding":{"detail":{"field":"n"},"order":{"field":"i"}}},
{"data":{"name":"lines"},"transform":[{"filter":"datum.part==='tick'"}],"mark":{"type":"line","stroke":"#111111","strokeWidth":2},"encoding":{"detail":{"field":"n"},"order":{"field":"i"}}},
{"data":{"name":"lines"},"transform":[{"filter":"datum.part==='front'"}],"mark":{"type":"line","stroke":"#737373","strokeWidth":1.8},"encoding":{"detail":{"field":"n"},"order":{"field":"i"}}},
{"data":{"name":"lines"},"transform":[{"filter":"datum.part==='axis'"}],"mark":{"type":"line","stroke":"#ffffff","strokeWidth":1.8},"encoding":{"detail":{"field":"n"},"order":{"field":"i"}}},
{"data":{"name":"labels"},"mark":{"type":"text","font":"Liberation Sans","fontSize":30,"color":"#ffffff","align":"center","baseline":"middle","dy":3},"encoding":{"text":{"field":"t"}}},
{"data":{"name":"titles"},"mark":{"type":"text","font":"Liberation Sans","fontStyle":"italic","fontSize":30,"color":"#ffffff","align":"center","baseline":"middle","dy":3},"encoding":{"text":{"field":"t"}}}
]}
